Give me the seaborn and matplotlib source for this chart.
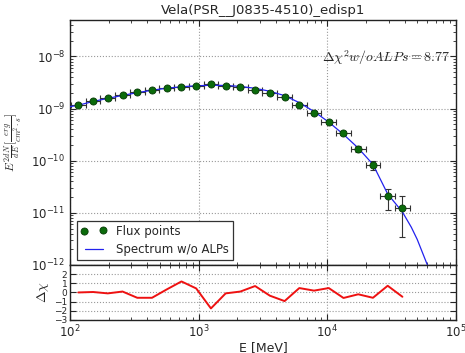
import numpy as np
import pandas as pd
import matplotlib
matplotlib.use("Agg")
import matplotlib.pyplot as plt
import seaborn as sns
from matplotlib.ticker import LogLocator, NullFormatter, MultipleLocator

# ---------------- data ----------------
energy = [116.1, 151.2, 196.8, 256.2, 333.4, 434.0, 564.9, 735.5, 957.2, 1246,
          1622, 2111, 2748, 3577, 4656, 6061, 7889, 10269, 13366, 17400,
          22646, 29480, 38370]
bin_edges = [101.8, 132.5, 172.5, 224.5, 292.2, 380.3, 495.0, 644.3, 838.6, 1091.5,
             1420.7, 1849.2, 2407, 3133, 4078, 5308, 6909, 8993, 11705, 15235,
             19830, 25811, 33596, 43728]
flux = [1.16e-9, 1.38e-9, 1.57e-9, 1.79e-9, 2.04e-9, 2.30e-9, 2.51e-9, 2.58e-9,
        2.69e-9, 2.90e-9, 2.77e-9, 2.58e-9, 2.30e-9, 2.01e-9, 1.66e-9, 1.19e-9,
        0.84e-9, 5.42e-10, 3.35e-10, 1.66e-10, 8.1e-11, 2.06e-11, 1.26e-11]
flux_lo = [1.11e-9, 1.33e-9, 1.52e-9, 1.74e-9, 1.98e-9, 2.24e-9, 2.44e-9, 2.51e-9,
           2.62e-9, 2.82e-9, 2.69e-9, 2.50e-9, 2.22e-9, 1.93e-9, 1.59e-9, 1.13e-9,
           0.79e-9, 5.0e-10, 3.05e-10, 1.45e-10, 6.5e-11, 1.13e-11, 3.4e-12]
flux_hi = [1.21e-9, 1.43e-9, 1.62e-9, 1.84e-9, 2.10e-9, 2.36e-9, 2.58e-9, 2.65e-9,
           2.76e-9, 2.98e-9, 2.85e-9, 2.66e-9, 2.38e-9, 2.09e-9, 1.73e-9, 1.25e-9,
           0.89e-9, 5.85e-10, 3.65e-10, 1.88e-10, 1.01e-10, 2.92e-11, 2.12e-11]
model_energy = [100, 116.1, 151.2, 196.8, 256.2, 333.4, 434.0, 564.9, 735.5, 957.2,
                1246, 1622, 2111, 2748, 3577, 4656, 6061, 7889, 10269, 13366,
                17400, 22646, 29480, 38370, 45000, 50000, 60000, 70000]
model_flux = [1.09e-9, 1.16e-9, 1.37e-9, 1.57e-9, 1.79e-9, 2.02e-9, 2.25e-9, 2.46e-9,
              2.62e-9, 2.74e-9, 2.80e-9, 2.78e-9, 2.66e-9, 2.45e-9, 2.15e-9, 1.77e-9,
              1.30e-9, 8.8e-10, 5.5e-10, 3.2e-10, 1.75e-10, 8.5e-11, 2.3e-11, 1.04e-11,
              5.3e-12, 3.1e-12, 1.0e-12, 3.0e-13]
residual = [0.0, 0.05, -0.1, 0.1, -0.58, -0.58, 0.33, 1.2, 0.44, -1.74, -0.1, 0.1,
            0.7, -0.35, -0.94, 0.48, 0.2, 0.48, -0.6, -0.2, -0.58, 0.73, -0.47]

title = "Vela(PSR__J0835-4510)_edisp1"
chi_text = r"$\Delta\chi^2 w/o ALPs = 8.77$"

# ---------------- style ----------------
sns.set_style("ticks")
plt.rcParams["font.family"] = ["DejaVu Sans"]
plt.rcParams["mathtext.fontset"] = "cm"
plt.rcParams["xtick.direction"] = "in"
plt.rcParams["ytick.direction"] = "in"

fig = plt.figure(figsize=(4.65, 3.53), dpi=100)
ax = fig.add_axes([0.1505, 0.2493, 0.830, 0.694])
axr = fig.add_axes([0.1505, 0.0935, 0.830, 0.156], sharex=ax)

df_pts = pd.DataFrame({"E": energy, "F": flux})
df_mod = pd.DataFrame({"E": model_energy, "F": model_flux})
df_res = pd.DataFrame({"E": energy, "R": residual})

E = np.array(energy)
F = np.array(flux)
edges = np.array(bin_edges)
xerr = [E - edges[:-1], edges[1:] - E]
yerr = [F - np.array(flux_lo), np.array(flux_hi) - F]

ax.set_xscale("log")
ax.set_yscale("log")

ax.errorbar(E, F, xerr=xerr, yerr=yerr, fmt="none", ecolor="#333333",
            elinewidth=0.8, capsize=2, capthick=0.8, zorder=2)
sns.lineplot(data=df_mod, x="E", y="F", ax=ax, color="#2222ee", lw=0.9,
             label="Spectrum w/o ALPs", zorder=3)
sns.scatterplot(data=df_pts, x="E", y="F", ax=ax, color="#0b6b0b", s=26,
                edgecolor="#063806", linewidth=0.6, label="Flux points", zorder=4)

ax.set_xlim(100, 1e5)
ax.set_ylim(1e-12, 5e-8)
ax.set_xlabel("")
ax.set_ylabel(r"$E^2\frac{dN}{dE}[\frac{erg}{cm^2\cdot s}]$", fontsize=8.5)
ax.yaxis.set_label_coords(-0.118, 0.5)
ax.set_title(title, fontsize=9.5, pad=4)
ax.grid(True, which="major", ls=":", color="#999999", lw=0.8)
ax.yaxis.set_major_locator(LogLocator(base=10, numticks=10))
ax.yaxis.set_minor_locator(LogLocator(base=10, subs=np.arange(2, 10), numticks=20))
ax.yaxis.set_minor_formatter(NullFormatter())
ax.tick_params(which="both", top=True, right=True, labelsize=8.5)
ax.tick_params(which="major", length=4)
ax.tick_params(which="minor", length=2)
plt.setp(ax.get_xticklabels(), visible=False)
ax.text(0.985, 0.845, chi_text, transform=ax.transAxes, ha="right", va="center",
        fontsize=10)

h, l = ax.get_legend_handles_labels()
order = [l.index("Flux points"), l.index("Spectrum w/o ALPs")]
leg = ax.legend([h[i] for i in order], [l[i] for i in order], loc="lower left",
                bbox_to_anchor=(0.018, 0.02), borderaxespad=0, numpoints=2,
                scatterpoints=2, fontsize=8.5, frameon=True, fancybox=False,
                framealpha=1, edgecolor="#333333", borderpad=0.35,
                handlelength=2.2, labelspacing=0.45)
leg.get_frame().set_linewidth(0.9)

sns.lineplot(data=df_res, x="E", y="R", ax=axr, color="#ee1111", lw=1.4)
axr.set_ylim(-3, 3)
axr.set_yticks([-3, -2, -1, 0, 1, 2])
axr.yaxis.set_minor_locator(MultipleLocator(1))
axr.set_ylabel(r"$\Delta\chi$", fontsize=10, labelpad=2)
axr.set_xlabel("E [MeV]", fontsize=9, labelpad=0)
axr.grid(True, which="major", ls=":", color="#999999", lw=0.8)
axr.tick_params(which="both", top=True, right=True, labelsize=8.5)
axr.tick_params(axis="x", pad=3)
axr.tick_params(axis="y", labelsize=6.5, pad=2)
axr.tick_params(which="major", length=4)
axr.tick_params(which="minor", length=2)
axr.set_xlim(100, 1e5)

for a in (ax, axr):
    for s in a.spines.values():
        s.set_linewidth(1.0)
        s.set_color("#222222")

fig.savefig("out.png", dpi=100)
